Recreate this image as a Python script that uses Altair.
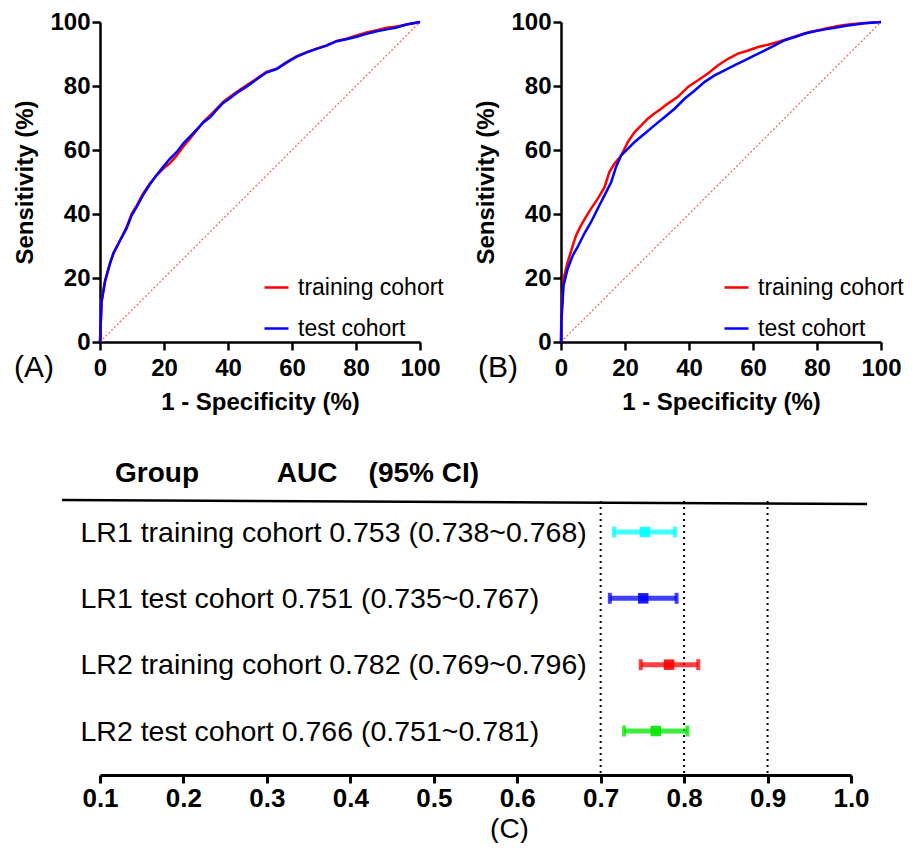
import altair as alt
import pandas as pd

# ---------------- ROC data (in %) ----------------
a_fpr = [0, 0.5, 1.6, 3.1, 4.2, 6.3, 8.3, 9.9, 11.5, 13.5, 15.6, 17.7, 19.8, 21.9, 24, 26,
         28.1, 30.2, 32.3, 34.4, 36.5, 38.5, 40.6, 42.7, 45.8, 49, 52, 55.2, 58.3, 61.5,
         64.6, 67.7, 70.8, 74, 77, 80.2, 83.3, 86.5, 89.6, 92.7, 95.8, 100]
a_train_tpr = [0, 13, 19.3, 24.5, 27.6, 31.8, 35.9, 40.1, 42.7, 46.4, 49.5, 52.1, 54.2, 55.9,
               58.3, 61, 63.5, 66.1, 68.8, 70.8, 72.9, 75, 76.6, 78.1, 80.2, 82.3, 84.4, 85.4,
               87.5, 89.3, 90.6, 91.7, 92.7, 94.1, 94.8, 95.8, 96.7, 97.4, 98.2, 98.6, 99.2, 100]
a_test_tpr = [0, 12.5, 19, 24.5, 27.8, 31.8, 35.5, 39.6, 42.3, 46, 49.3, 52.2, 54.8, 57.3,
              59.4, 62, 64.2, 66.4, 68.6, 70.2, 72.6, 74.7, 76.2, 77.8, 79.8, 82.1, 84.2, 85.3,
              87.3, 89.2, 90.5, 91.6, 92.6, 94, 94.6, 95.4, 96.3, 97.1, 97.7, 98.3, 99.2, 100]

b_train_fpr = [0, 0.1, 0.8, 2.1, 3.7, 4.7, 6.3, 7.8, 9.4, 11.5, 13.6, 15.1, 16.7, 18.8, 20.9,
               23, 25.1, 27.1, 29.2, 31.3, 33.4, 36.5, 39.7, 42.8, 45.9, 49.1, 52.2, 55.3, 58.5,
               61.6, 64.7, 67.8, 71, 74.1, 77.2, 80.4, 83.5, 86.6, 89.8, 92.9, 96, 100]
b_train_tpr = [0, 7.3, 19.8, 25, 30.2, 33.3, 36.5, 39.1, 41.7, 44.8, 48.4, 53.1, 55.7, 58.3,
               62.5, 65.6, 67.7, 69.8, 71.4, 72.9, 74.5, 76.6, 79.7, 81.8, 83.9, 86.5, 88.5,
               90.1, 91.1, 92.2, 92.9, 93.75, 94.8, 95.8, 96.7, 97.4, 98.1, 98.75, 99.2, 99.5,
               99.8, 100]
b_test_fpr = [0, 0.1, 0.8, 2.1, 3.7, 5.2, 7.3, 9.4, 11.5, 13.6, 15.7, 17.2, 18.8, 20.4, 23,
              26.1, 29.2, 32.4, 35.5, 38.6, 41.8, 44.9, 48, 51.1, 54.3, 57.4, 60.5, 63.7, 66.8,
              69.9, 73.1, 76.2, 79.3, 82.5, 85.6, 88.7, 91.9, 95, 100]
b_test_tpr = [0, 6.3, 17.7, 22.9, 27.1, 29.7, 33.9, 37.5, 41.7, 45.8, 50, 54.7, 58.3, 59.9,
              62.5, 65.1, 67.7, 70.3, 72.9, 76, 78.6, 81.3, 83.3, 84.9, 86.5, 88, 89.6, 91.1,
              92.7, 94.3, 95.3, 96.4, 97.1, 97.7, 98.2, 98.75, 99.2, 99.6, 100]

diag = [0, 100]
cohorts = ["training cohort", "test cohort"]
roc_colors = ["#ff0000", "#0000ff"]
roc_ticks = [0, 20, 40, 60, 80, 100]

# ---------------- Forest plot data ----------------
groups = ["LR1 training cohort 0.753 (0.738~0.768)",
          "LR1 test cohort 0.751 (0.735~0.767)",
          "LR2 training cohort 0.782 (0.769~0.796)",
          "LR2 test cohort 0.766 (0.751~0.781)"]
auc = [0.753, 0.751, 0.782, 0.766]
bar_low = [0.716, 0.711, 0.748, 0.728]
bar_high = [0.789, 0.791, 0.817, 0.804]
bar_colors = ["#00ffff", "#0000ff", "#ff0000", "#00e600"]
ref_lines = [0.7, 0.8, 0.9]
forest_ticks = [0.1, 0.2, 0.3, 0.4, 0.5, 0.6, 0.7, 0.8, 0.9, 1.0]

FONT = "Liberation Sans"
NB = "\u00a0"


def roc_frame(fpr_tr, tpr_tr, fpr_te, tpr_te):
    rows = []
    for f, t in zip(fpr_tr, tpr_tr):
        rows.append({"fpr": f, "tpr": t, "cohort": cohorts[0]})
    for f, t in zip(fpr_te, tpr_te):
        rows.append({"fpr": f, "tpr": t, "cohort": cohorts[1]})
    return pd.DataFrame(rows)


def axis_common(title, label_pad, title_pad):
    return alt.Axis(values=roc_ticks, title=title, grid=False,
                    titleFont=FONT, titleFontSize=24, titleFontWeight="bold", titleColor="black",
                    titlePadding=title_pad,
                    labelFont=FONT, labelFontSize=24, labelFontWeight="bold", labelColor="black",
                    labelPadding=label_pad, labelFlush=False,
                    tickSize=8, tickWidth=2.5, tickColor="black",
                    domainWidth=2.5, domainColor="black")


def roc_panel(df, tag, tag_dx, leg_x):
    xs = alt.Scale(domain=[0, 100], nice=False)
    ys = alt.Scale(domain=[0, 100], nice=False)
    diag_layer = alt.Chart(pd.DataFrame({"fpr": diag, "tpr": diag})).mark_line(
        stroke="#ff5a5a", strokeWidth=1.2, strokeDash=[2, 2]
    ).encode(
        x=alt.X("fpr:Q", scale=xs, axis=axis_common("1 - Specificity (%)", 6, 10)),
        y=alt.Y("tpr:Q", scale=ys, axis=axis_common("Sensitivity (%)", 2, 12)),
    )
    lines = alt.Chart(df).mark_line(strokeWidth=2.5).encode(
        x=alt.X("fpr:Q", scale=xs),
        y=alt.Y("tpr:Q", scale=ys),
        color=alt.Color("cohort:N", sort=cohorts,
                        scale=alt.Scale(domain=cohorts, range=roc_colors),
                        legend=alt.Legend(title=None, orient="none", legendX=leg_x, legendY=252,
                                          symbolType="stroke", symbolSize=576,
                                          symbolStrokeWidth=2.5, labelFont=FONT,
                                          labelFontSize=23, labelColor="black",
                                          labelOffset=8, rowPadding=15, padding=0,
                                          labelLimit=400)),
    )
    return alt.layer(diag_layer, lines).properties(
        width=320, height=320,
        title=alt.TitleParams(tag, orient="bottom", anchor="start", fontSize=30,
                              fontWeight="normal", font=FONT, color="black",
                              dx=tag_dx, dy=-65),
    )


panel_a = roc_panel(roc_frame(a_fpr, a_train_tpr, a_fpr, a_test_tpr), "(A)", 0, 163)
panel_b = roc_panel(roc_frame(b_train_fpr, b_train_tpr, b_test_fpr, b_test_tpr), "(B)", 3, 162)

# ---------------- Forest plot ----------------
fdf = pd.DataFrame({"group": groups, "auc": auc, "lo": bar_low, "hi": bar_high})
fx = alt.Scale(domain=[0.1, 1.0], nice=False, zero=False)
fy = alt.Scale(type="point", domain=groups, range=[31, 230], padding=0)
color_enc = alt.Color("group:N", scale=alt.Scale(domain=groups, range=bar_colors), legend=None)

x_axis_f = alt.Axis(values=forest_ticks, format=".1f", grid=False, title="(C)",
                    titleFont=FONT, titleFontSize=28, titleFontWeight="normal",
                    titleColor="black", titlePadding=4, titleX=409,
                    labelFont=FONT, labelFontSize=26, labelFontWeight="bold",
                    labelColor="black", labelPadding=2, labelFlush=False,
                    tickSize=8, tickWidth=3, tickColor="black",
                    domainWidth=3, domainColor="black")
y_axis_f = alt.Axis(title=None, domain=False, ticks=False, labelAlign="left",
                    labelPadding=20, labelFont=FONT, labelFontSize=28.5,
                    labelColor="black", labelLimit=1000, labelBaseline="middle")

refs = alt.Chart(pd.DataFrame({"ref": ref_lines})).mark_rule(
    color="black", strokeWidth=2, strokeDash=[2, 4]
).encode(x=alt.X("ref:Q", scale=fx, axis=x_axis_f))

sep = alt.Chart(pd.DataFrame({"sep": [0]})).mark_rule(color="black", strokeWidth=2.5).encode(
    x=alt.value(-38), x2=alt.value(767), y=alt.value(-1), y2=alt.value(3))
spacer = alt.Chart(pd.DataFrame({"sep": [0]})).mark_rule(opacity=0).encode(
    x=alt.value(-86), x2=alt.value(-85), y=alt.value(0), y2=alt.value(1))

bars = alt.Chart(fdf).mark_rule(strokeWidth=5, opacity=0.75).encode(
    x=alt.X("lo:Q", scale=fx), x2="hi:Q",
    y=alt.Y("group:N", scale=fy, axis=y_axis_f), color=color_enc)
cap_lo = alt.Chart(fdf).mark_tick(thickness=4, size=11, opacity=0.75).encode(
    x=alt.X("lo:Q", scale=fx), y=alt.Y("group:N", scale=fy), color=color_enc)
cap_hi = alt.Chart(fdf).mark_tick(thickness=4, size=11, opacity=0.75).encode(
    x=alt.X("hi:Q", scale=fx), y=alt.Y("group:N", scale=fy), color=color_enc)
dots = alt.Chart(fdf).mark_square(size=110, opacity=0.9).encode(
    x=alt.X("auc:Q", scale=fx), y=alt.Y("group:N", scale=fy), color=color_enc)

header = "Group" + NB * 10 + "AUC" + NB * 4 + "(95% CI)"
forest = alt.layer(refs, sep, spacer, bars, cap_lo, cap_hi, dots).properties(
    width=751, height=274,
    title=alt.TitleParams(header, anchor="start", frame="group", dx=15, offset=11,
                          fontSize=28, fontWeight="bold", font=FONT, color="black"),
)

top = alt.hconcat(panel_a, panel_b, spacing=30).resolve_scale(
    color="independent").resolve_legend(color="independent")

chart = alt.vconcat(top, forest, spacing=45).resolve_scale(
    color="independent").resolve_legend(color="independent").properties(
    padding={"left": 5, "top": 2, "right": 0, "bottom": 0}
).configure_view(stroke=None)

chart.save("out.html", embed_options={"renderer": "svg", "actions": False})
